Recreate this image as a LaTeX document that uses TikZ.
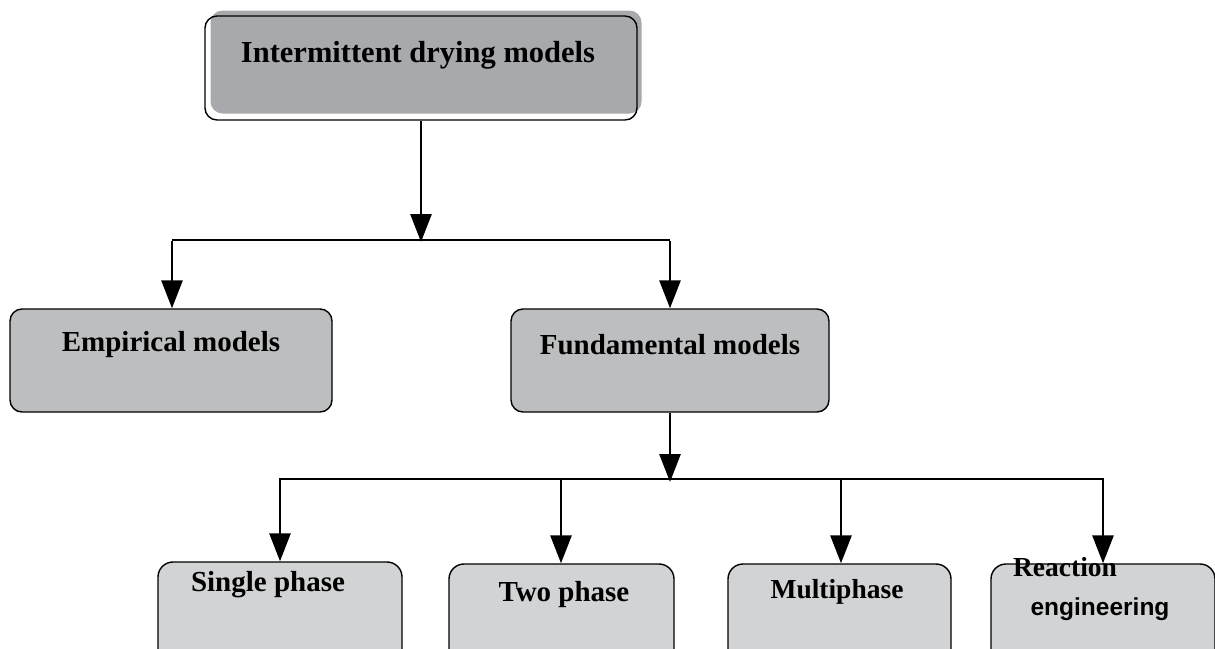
\documentclass[tikz,border=0pt]{standalone}
\usepackage{fontspec}
\setmainfont{Liberation Serif}
\newfontfamily\arialfont{Liberation Sans}
\usetikzlibrary{arrows.meta}
\definecolor{topgray}{HTML}{A7A9AC}
\definecolor{midgray}{HTML}{BCBEC0}
\definecolor{lowgray}{HTML}{D1D3D4}
\tikzset{
  boxbase/.style={rectangle, rounded corners=12pt, line width=1.4pt, draw=black, inner sep=0pt},
  midbox/.style={boxbase, fill=midgray},
  lowbox/.style={boxbase, fill=lowgray, rounded corners=15pt},
  lbl/.style={inner sep=0pt, font=\fontsize{29}{32}\selectfont\bfseries},
  conn/.style={line width=2.8pt, line cap=butt},
  arr/.style={conn, -{Triangle[length=28pt, width=21pt]}},
}
\begin{document}
\begin{tikzpicture}[x=1pt, y=-1pt]
\useasboundingbox (0,0) rectangle (1215,648);
\clip (0,0) rectangle (1215,648);
% top box: grey offset fill, then outline
\node[boxbase, draw=none, fill=topgray, minimum width=431pt, minimum height=103pt] (topfill) at (426,62) {};
\node[boxbase, minimum width=432pt, minimum height=104pt] (top) at (421,68) {};
\node[lbl, font=\fontsize{30.5}{33}\selectfont\bfseries] (toptxt) at (418,55) {Intermittent drying models};
% middle boxes
\node[midbox, minimum width=322pt, minimum height=103pt] (emp) at (171,360.5) {};
\node[lbl] (emptxt) at (171,345) {Empirical models};
\node[midbox, minimum width=318pt, minimum height=103pt] (fun) at (670,360.5) {};
\node[lbl] (funtxt) at (670,345) {Fundamental models};
% bottom boxes
\node[lowbox, minimum width=244pt, minimum height=120pt] (sgl) at (280,622) {};
\node[lbl] (sgltxt) at (268,585) {Single phase};
\node[lowbox, minimum width=225pt, minimum height=120pt] (two) at (561.5,624) {};
\node[lbl] (twotxt) at (564,595) {Two phase};
\node[lowbox, minimum width=223pt, minimum height=120pt] (mul) at (839.5,624) {};
\node[lbl, font=\fontsize{27.5}{30}\selectfont\bfseries] (multxt) at (837,592) {Multiphase};
\node[lowbox, minimum width=224pt, minimum height=120pt] (rea) at (1103,624) {};
\node[lbl, font=\fontsize{27.5}{30}\selectfont\bfseries] (reatxt) at (1065,567) {Reaction};
\node[inner sep=0pt, font=\fontsize{24.5}{27}\selectfont\bfseries\arialfont] (engtxt) at (1100,609) {engineering};
% connectors level 1
\coordinate (j1) at (421,240);
\coordinate (j1l) at (172,240);
\coordinate (j1r) at (670,240);
\draw[arr] (top.south) -- ([yshift=-2pt]j1);
\draw[conn] (j1l) -- (j1r);
\draw[arr] ([yshift=-1.4pt]j1l) -- (emp.north -| j1l);
\draw[arr] ([yshift=-1.4pt]j1r) -- (fun.north -| j1r);
% connectors level 2
\coordinate (j2) at (670,479);
\coordinate (j2a) at (280,479);
\coordinate (j2b) at (561,479);
\coordinate (j2c) at (841,479);
\coordinate (j2d) at (1103,479);
\draw[arr] (fun.south) -- ([yshift=-3pt]j2);
\draw[conn] ([xshift=-1.4pt]j2a) -- ([xshift=1.4pt]j2d);
\draw[arr] ([yshift=-1.4pt]j2a) -- (sgl.north -| j2a);
\draw[arr] ([yshift=-1.4pt]j2b) -- (two.north -| j2b);
\draw[arr] ([yshift=-1.4pt]j2c) -- (mul.north -| j2c);
\draw[arr] ([yshift=-1.4pt]j2d) -- (rea.north -| j2d);
\end{tikzpicture}
\end{document}
